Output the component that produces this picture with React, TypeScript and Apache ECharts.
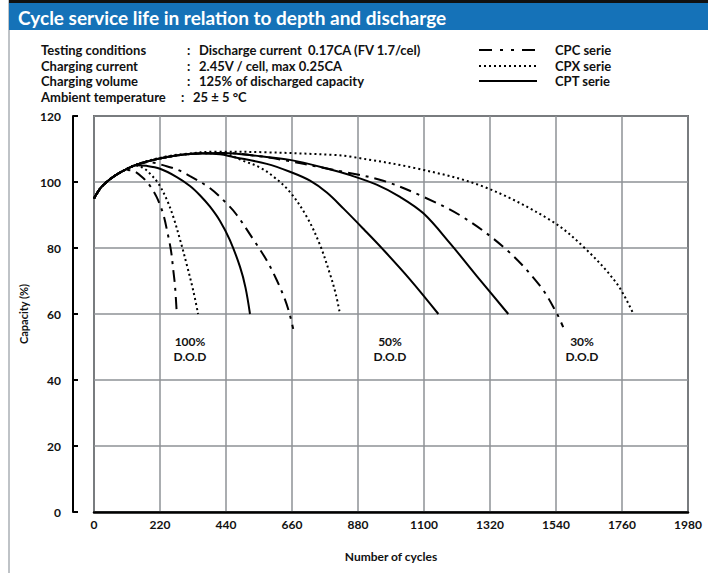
import React, { useEffect, useRef } from "react";
import * as echarts from "echarts";

// ---- data (cycles, capacity %) ----
const X_TICKS = [0, 220, 440, 660, 880, 1100, 1320, 1540, 1760, 1980];
const Y_TICKS = [0, 20, 40, 60, 80, 100, 120];

const CPC_100 = [[0,95],[10,96.6],[25,98.5],[50,100.6],[80,102.5],[110,103.6],[130,103.4],[164,101.2],[187,98.8],[209,95.4],[230,90.5],[246,84.2],[257,79],[264,73.5],[270,68.5],[276,60]];
const CPX_100 = [[0,95],[10,96.6],[25,98.5],[50,100.6],[80,102.5],[110,104],[140,105],[165,104.2],[187,102.5],[214,99.6],[242,94.8],[264,89.5],[287,82.5],[309,75],[331,67],[347,60]];
const CPT_100 = [[0,95],[10,96.6],[25,98.5],[50,100.6],[80,102.5],[110,104],[140,105.1],[175,104.9],[220,104],[276,101.5],[320,98.8],[353,96],[386,92.6],[420,88.2],[453,82.4],[487,74.2],[505,68],[520,60]];

const CPC_50 = [[0,95],[10,96.6],[25,98.5],[50,100.6],[80,102.5],[110,104],[140,105.2],[180,106],[242,104.8],[281,103.6],[320,101.8],[387,98.1],[442,93.5],[476,90],[531,82.6],[576,76.2],[609,70.3],[637,64.3],[652,60],[664,55.5]];
const CPX_50 = [[0,95],[10,96.6],[25,98.5],[50,100.6],[80,102.5],[110,104],[140,105.2],[180,106.3],[240,107.5],[300,108.3],[360,108.7],[431,108.6],[498,106.4],[553,104.4],[600,101.5],[653,97],[709,89.5],[753,81],[787,72],[806,66],[820,60]];
const CPT_50 = [[0,95],[10,96.6],[25,98.5],[50,100.6],[80,102.5],[110,104],[140,105.2],[180,106.3],[240,107.5],[300,108.3],[360,108.6],[420,108.4],[464,107.6],[576,105.5],[653,103.1],[720,100.4],[776,96.8],[831,92],[900,85.6],[964,79.5],[1053,70.5],[1148,60]];

const CPC_30 = [[0,95],[10,96.6],[25,98.5],[50,100.6],[80,102.5],[110,104],[140,105.2],[180,106.3],[240,107.5],[300,108.3],[360,108.7],[431,108.8],[553,107.8],[653,106.3],[742,104.7],[842,102.9],[964,100.4],[1098,95.5],[1231,89.3],[1376,79.4],[1487,68.5],[1542,60.3],[1564,56]];
const CPX_30 = [[0,95],[10,96.6],[25,98.5],[50,100.6],[80,102.5],[110,104],[140,105.2],[180,106.4],[240,107.7],[300,108.5],[409,109.2],[576,109],[798,108.2],[853,107.7],[1076,104.1],[1298,98.6],[1520,88.5],[1631,80.4],[1742,69.3],[1798,60]];
const CPT_30 = [[0,95],[10,96.6],[25,98.5],[50,100.6],[80,102.5],[110,104],[140,105.2],[180,106.3],[240,107.5],[300,108.3],[360,108.7],[431,108.8],[553,107.8],[653,106.7],[776,104.1],[853,102.1],[942,99.2],[1020,95.5],[1098,90.5],[1187,81.4],[1276,71.5],[1381,60]];

const TITLE = "Cycle service life in relation to depth and discharge";
const COND_LABELS = ["Testing conditions", "Charging current", "Charging volume", "Ambient temperature"];
const COND_VALUES = ["Discharge current  0.17CA (FV 1.7/cel)", "2.45V / cell, max 0.25CA", "125% of discharged capacity", "25 ± 5 °C"];
const LEGEND_NAMES = ["CPC serie", "CPX serie", "CPT serie"];
const DOD_LABELS = ["100%", "50%", "30%"];

const FONT = "Lato, 'Open Sans', sans-serif";
const DASHDOT = [12, 6, 3, 6];
const DOTTED = [2, 3];

export default function App() {
  const ref = useRef<HTMLDivElement>(null);
  useEffect(() => {
    if (!ref.current) return;
    const chart = echarts.init(ref.current, null, { renderer: "svg" });

    const mk = (name: string, data: number[][], type: any) => ({
      name,
      type: "line",
      data,
      smooth: 0.35,
      showSymbol: false,
      symbol: "none",
      z: 5,
      lineStyle: { color: "#000", width: 2, type, cap: "butt" },
    });

    const graphics: any[] = [];
    // page left border
    graphics.push({ type: "rect", shape: { x: 8, y: 0, width: 2, height: 573 }, style: { fill: "#bfc3c7" }, silent: true });
    // header bar
    graphics.push({ type: "rect", shape: { x: 9, y: 0, width: 699, height: 3 }, style: { fill: "#111" } });
    graphics.push({ type: "rect", shape: { x: 9, y: 3, width: 699, height: 27 }, style: { fill: "#1572b8" } });
    graphics.push({ type: "text", x: 18, y: 17, style: { text: TITLE, fill: "#fff", font: `bold 19px ${FONT}`, textVerticalAlign: "middle" } });

    // test conditions
    const rowY = [50, 66, 81, 97];
    COND_LABELS.forEach((t, i) => {
      graphics.push({ type: "text", x: 41, y: rowY[i], style: { text: t, fill: "#111", font: `bold 13px ${FONT}`, textVerticalAlign: "middle" } });
      const cx = i === 3 ? 181 : 187;
      const vx = i === 3 ? 193 : 199;
      graphics.push({ type: "text", x: cx, y: rowY[i], style: { text: ":", fill: "#111", font: `bold 13px ${FONT}`, textVerticalAlign: "middle" } });
      graphics.push({ type: "text", x: vx, y: rowY[i], style: { text: COND_VALUES[i], fill: "#111", font: `bold 13px ${FONT}`, textVerticalAlign: "middle" } });
    });

    // legend
    const legY = [50, 66, 81];
    const legDash = [[13, 8, 3, 8, 3, 8, 13, 100], DOTTED, null];
    LEGEND_NAMES.forEach((t, i) => {
      graphics.push({
        type: "line",
        shape: { x1: 479, y1: legY[i], x2: 537, y2: legY[i] },
        style: { stroke: "#000", lineWidth: 2, lineDash: legDash[i] || undefined },
      });
      graphics.push({ type: "text", x: 555, y: legY[i], style: { text: t, fill: "#111", font: `bold 13px ${FONT}`, textVerticalAlign: "middle" } });
    });

    // DOD labels
    const dodX = [190, 390, 582];
    DOD_LABELS.forEach((t, i) => {
      graphics.push({ type: "text", x: dodX[i], y: 341, style: { text: t, fill: "#111", font: `bold 12px ${FONT}`, textAlign: "center", textVerticalAlign: "middle" } });
      graphics.push({ type: "text", x: dodX[i], y: 356, style: { text: "D.O.D", fill: "#111", font: `bold 12px ${FONT}`, textAlign: "center", textVerticalAlign: "middle" } });
    });

    const option: any = {
      animation: false,
      backgroundColor: "#fff",
      textStyle: { fontFamily: FONT },
      grid: { left: 94, right: 20, top: 116, bottom: 61, show: true, borderColor: "#000", borderWidth: 1.5, backgroundColor: "transparent" },
      xAxis: {
        type: "value",
        min: X_TICKS[0],
        max: X_TICKS[X_TICKS.length - 1],
        interval: 220,
        name: "Number of cycles",
        nameLocation: "middle",
        nameGap: 38,
        nameTextStyle: { color: "#111", fontWeight: "bold", fontSize: 12, fontFamily: FONT },
        axisLine: { show: true, onZero: false, lineStyle: { color: "#000", width: 2.5 } },
        axisTick: { show: false },
        axisLabel: { color: "#111", fontWeight: "bold", fontSize: 12, margin: 6, fontFamily: FONT, formatter: (v: number) => String(v) },
        splitLine: { show: true, lineStyle: { color: "#8e9296", width: 1.5 } },
      },
      yAxis: {
        type: "value",
        min: Y_TICKS[0],
        max: Y_TICKS[Y_TICKS.length - 1],
        interval: 20,
        position: "left",
        offset: 21,
        name: "Capacity (%)",
        nameLocation: "middle",
        nameRotate: 90,
        nameGap: 42,
        nameTextStyle: { color: "#111", fontWeight: "bold", fontSize: 11, fontFamily: FONT },
        axisLine: { show: true, onZero: false, lineStyle: { color: "#000", width: 2 } },
        axisTick: { show: true, inside: true, length: 5, lineStyle: { color: "#000", width: 2 } },
        axisLabel: { color: "#111", fontWeight: "bold", fontSize: 12, margin: 12, padding: [0, 0, 6, 0], fontFamily: FONT, formatter: (v: number) => String(v) },
        splitLine: { show: true, lineStyle: { color: "#8e9296", width: 1.5 } },
      },
      series: [
        mk("CPC 100", CPC_100, DASHDOT),
        mk("CPX 100", CPX_100, DOTTED),
        mk("CPT 100", CPT_100, "solid"),
        mk("CPC 50", CPC_50, DASHDOT),
        mk("CPX 50", CPX_50, DOTTED),
        mk("CPT 50", CPT_50, "solid"),
        mk("CPC 30", CPC_30, DASHDOT),
        mk("CPX 30", CPX_30, DOTTED),
        mk("CPT 30", CPT_30, "solid"),
      ],
      graphic: graphics,
    };
    chart.setOption(option);
    return () => chart.dispose();
  }, []);
  return <div ref={ref} style={{ position: "fixed", left: 0, top: 0, width: 708, height: 573 }} />;
}
